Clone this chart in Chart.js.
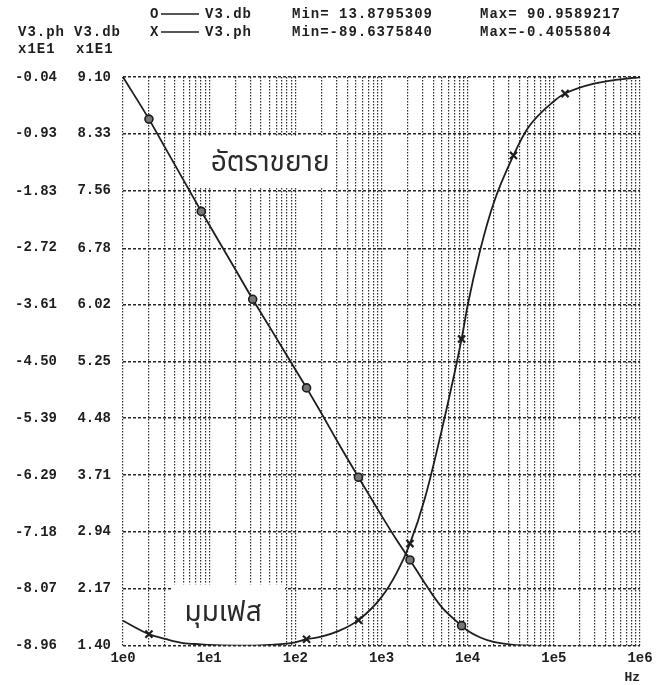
<!DOCTYPE html>
<html>
<head>
<meta charset="utf-8">
<title>V3 frequency response</title>
<script src="https://cdn.jsdelivr.net/npm/chart.js@4.4.1/dist/chart.umd.min.js"></script>
<style>
  html, body { margin: 0; padding: 0; background: #ffffff; }
  #wrap { width: 657px; height: 685px; position: relative; }
</style>
</head>
<body>
<div id="wrap"><canvas id="bode" width="657" height="685"></canvas></div>
<script>
// Frequency samples (Hz)
const freqHz = [1, 2, 3.2, 5, 8.1, 10, 20, 32, 50, 100, 135, 200, 320, 540, 1000, 1500, 2140, 3200, 5000, 8500, 10000, 14000, 20000, 34000, 50000, 100000, 135000, 300000, 1000000];

// V3.db, in units of 10 dB
const gainDb = [9.10, 8.53, 8.11, 7.71, 7.28, 7.10, 6.50, 6.09, 5.72, 5.14, 4.89, 4.55, 4.13, 3.68, 3.16, 2.83, 2.56, 2.24, 1.92, 1.67, 1.60, 1.51, 1.45, 1.41, 1.40, 1.39, 1.39, 1.39, 1.39];

// V3.ph, in units of 10 degrees
const phaseDeg = [-8.57, -8.78, -8.86, -8.92, -8.94, -8.95, -8.96, -8.96, -8.95, -8.91, -8.86, -8.82, -8.73, -8.56, -8.20, -7.82, -7.36, -6.64, -5.58, -4.15, -3.62, -2.75, -2.02, -1.27, -0.84, -0.42, -0.30, -0.14, -0.04];

// Frequencies that carry a symbol on each trace
const gainMarkerHz = [2, 8.1, 32, 135, 540, 2140, 8500];
const phaseMarkerHz = [2, 135, 540, 2140, 8500, 34000, 135000];

// Axis tick labels (bottom to top)
const dbTickLabels = ['1.40', '2.17', '2.94', '3.71', '4.48', '5.25', '6.02', '6.78', '7.56', '8.33', '9.10'];
const phTickLabels = ['-8.96', '-8.07', '-7.18', '-6.29', '-5.39', '-4.50', '-3.61', '-2.72', '-1.83', '-0.93', '-0.04'];
const decadeExponents = [0, 1, 2, 3, 4, 5, 6];

// Header text
const legendRows = [
  { symbol: 'O', name: 'V3.db', min: 'Min= 13.8795309', max: 'Max= 90.9589217' },
  { symbol: 'X', name: 'V3.ph', min: 'Min=-89.6375840', max: 'Max=-0.4055804' }
];
const axisHeads = [['V3.ph', 'V3.db'], ['x1E1', 'x1E1']];

// Curve captions placed on the plot, with a white box behind each
const captions = [
  { text: 'อัตราขยาย', hz: 51, db: 7.91, box: { hz0: 6.0, hz1: 288, db0: 7.595, db1: 8.29 } },
  { text: 'มุมเฟส', hz: 14.5, db: 1.81, box: { hz0: 3.7, hz1: 76, db0: 1.41, db1: 2.23 } }
];

const INK = '#1e1e1e';
const MONO = '"Liberation Mono", "DejaVu Sans Mono", monospace';

const toPoints = (ys) => freqHz.map((f, i) => ({ x: f, y: ys[i] }));
const markerRadius = (list, r) => (ctx) => (ctx.raw && list.includes(ctx.raw.x) ? r : 0);

const captionPlugin = {
  id: 'captions',
  beforeDatasetsDraw(chart) {
    const { ctx, scales } = chart;
    const sx = scales.x, sy = scales.yDb;
    ctx.save();
    captions.forEach(c => {
      const x0 = sx.getPixelForValue(c.box.hz0), x1 = sx.getPixelForValue(c.box.hz1);
      const y0 = sy.getPixelForValue(c.box.db1), y1 = sy.getPixelForValue(c.box.db0);
      ctx.fillStyle = '#ffffff';
      ctx.fillRect(x0, y0, x1 - x0, y1 - y0);
      ctx.fillStyle = '#2a2a2a';
      ctx.font = '28px "Noto Sans Thai", "Loma", "Garuda", "DejaVu Sans", sans-serif';
      ctx.textAlign = 'center';
      ctx.textBaseline = 'middle';
      ctx.fillText(c.text, sx.getPixelForValue(c.hz), sy.getPixelForValue(c.db));
    });
    ctx.restore();
  }
};

const headerPlugin = {
  id: 'probeHeader',
  afterDraw(chart) {
    const ctx = chart.ctx;
    ctx.save();
    ctx.fillStyle = INK;
    ctx.strokeStyle = INK;
    ctx.font = 'bold 14px ' + MONO;
    ctx.letterSpacing = '1px';
    ctx.textBaseline = 'middle';
    ctx.textAlign = 'left';
    const rowY = [14, 32];
    legendRows.forEach((row, i) => {
      const y = rowY[i];
      ctx.fillText(row.symbol, 150, y);
      ctx.lineWidth = 1.6;
      ctx.beginPath();
      ctx.moveTo(161, y);
      ctx.lineTo(199, y);
      ctx.stroke();
      ctx.fillText(row.name, 205, y);
      ctx.fillText(row.min, 292, y);
      ctx.fillText(row.max, 480, y);
    });
    ctx.fillText(axisHeads[0][0], 18, 32);
    ctx.fillText(axisHeads[0][1], 74, 32);
    ctx.fillText(axisHeads[1][0], 18, 49);
    ctx.fillText(axisHeads[1][1], 76, 49);
    ctx.restore();
  }
};

new Chart(document.getElementById('bode'), {
  type: 'line',
  data: {
    datasets: [
      {
        label: 'V3.db',
        data: toPoints(gainDb),
        yAxisID: 'yDb',
        borderColor: INK,
        borderWidth: 1.8,
        cubicInterpolationMode: 'monotone',
        pointStyle: 'circle',
        pointRadius: markerRadius(gainMarkerHz, 4),
        pointHoverRadius: 0,
        pointBackgroundColor: '#777777',
        pointBorderColor: INK,
        pointBorderWidth: 1.6
      },
      {
        label: 'V3.ph',
        data: toPoints(phaseDeg),
        yAxisID: 'yPh',
        borderColor: INK,
        borderWidth: 1.8,
        cubicInterpolationMode: 'monotone',
        pointStyle: 'crossRot',
        pointRadius: markerRadius(phaseMarkerHz, 5),
        pointHoverRadius: 0,
        pointBorderColor: INK,
        pointBorderWidth: 2.2
      }
    ]
  },
  options: {
    responsive: false,
    animation: false,
    devicePixelRatio: 1,
    layout: { padding: { left: 14, right: 17, top: 77, bottom: -1 } },
    plugins: { legend: { display: false }, tooltip: { enabled: false }, title: { display: false } },
    scales: {
      x: {
        type: 'logarithmic',
        min: 1,
        max: 1e6,
        afterBuildTicks(axis) {
          const ticks = [];
          decadeExponents.forEach(e => {
            if (e === decadeExponents[decadeExponents.length - 1]) { ticks.push({ value: Math.pow(10, e) }); return; }
            for (let m = 1; m <= 9; m++) ticks.push({ value: m * Math.pow(10, e) });
          });
          axis.ticks = ticks;
        },
        ticks: {
          autoSkip: false,
          maxRotation: 0,
          padding: 4,
          color: INK,
          font: { family: MONO, size: 14, weight: 'bold' },
          callback(value) {
            const e = Math.log10(value);
            return Math.abs(e - Math.round(e)) < 1e-9 ? '1e' + Math.round(e) : '';
          }
        },
        grid: { color: '#2c2c2c', lineWidth: 1.2, drawTicks: false },
        border: { display: false, dash: [1.5, 1.5] },
        title: {
          display: true,
          text: 'Hz',
          align: 'end',
          color: INK,
          padding: { top: 0, bottom: 0 },
          font: { family: MONO, size: 13, weight: 'bold' }
        }
      },
      yDb: {
        type: 'linear',
        position: 'left',
        weight: 0,
        min: Number(dbTickLabels[0]),
        max: Number(dbTickLabels[dbTickLabels.length - 1]),
        afterBuildTicks(axis) { axis.ticks = dbTickLabels.map(s => ({ value: Number(s) })); },
        afterFit(axis) { axis.width = 50; },
        ticks: {
          padding: 12,
          color: INK,
          font: { family: MONO, size: 14, weight: 'bold' },
          callback(value, index) { return dbTickLabels[index]; }
        },
        grid: { color: '#262626', lineWidth: 1.5, drawTicks: false },
        border: { display: false, dash: [3, 2] }
      },
      yPh: {
        type: 'linear',
        position: 'left',
        weight: 1,
        min: Number(phTickLabels[0]),
        max: Number(phTickLabels[phTickLabels.length - 1]),
        afterBuildTicks(axis) { axis.ticks = phTickLabels.map(s => ({ value: Number(s) })); },
        afterFit(axis) { axis.width = 59; },
        ticks: {
          padding: 16,
          color: INK,
          font: { family: MONO, size: 14, weight: 'bold' },
          callback(value, index) { return phTickLabels[index]; }
        },
        grid: { display: false, drawTicks: false },
        border: { display: false }
      }
    }
  },
  plugins: [captionPlugin, headerPlugin]
});
</script>
</body>
</html>
